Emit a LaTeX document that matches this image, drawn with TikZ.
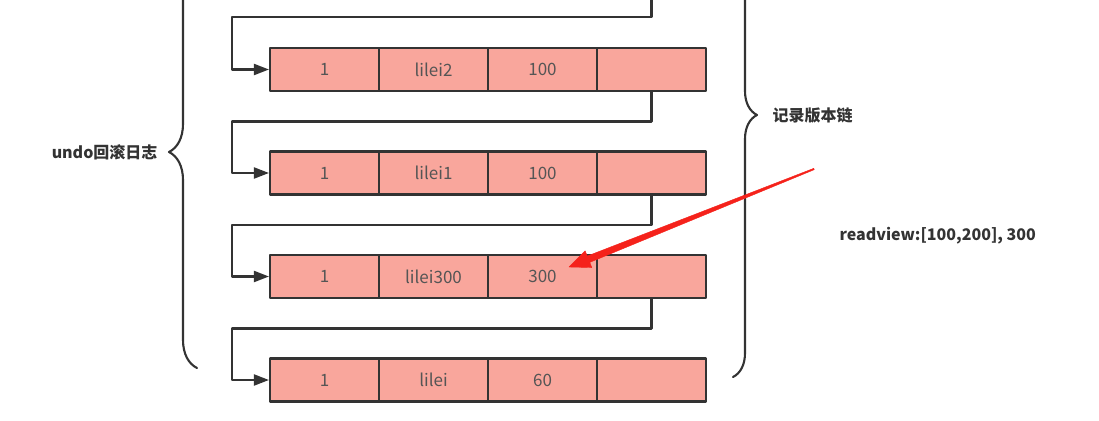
\documentclass[tikz,border=0pt]{standalone}
\usepackage{fontspec}
\setmainfont{Noto Sans CJK SC}
\usetikzlibrary{arrows.meta,calc,positioning,decorations.pathreplacing}
\definecolor{ulInk}{HTML}{333333}
\definecolor{ulText}{HTML}{555555}
\definecolor{ulFill}{HTML}{F9A69C}
\definecolor{ulRed}{HTML}{F5221B}
\tikzset{
 undo/.style={line cap=round,line join=round,text=ulInk},
 cell/.style={rectangle,draw=ulInk,fill=ulFill,line width=2.1pt,inner sep=0pt,
   minimum width=109pt,minimum height=43pt,font=\fontsize{17}{20}\selectfont,text=ulText},
 link/.style={draw=ulInk,line width=2.1pt,-{Triangle[length=15pt,width=11pt]}},
 bracket/.style={draw=ulInk,line width=2.1pt,decorate,
   decoration={brace,amplitude=#1}},
 caption/.style={font=\fontsize{16}{19}\selectfont\bfseries,text=ulInk},
 pointer/.style={fill=ulRed,draw=ulRed,line width=.4pt}
}
\begin{document}
\begin{tikzpicture}[undo,x=1pt,y=-1pt]
 \useasboundingbox (0,0) rectangle (1099,420);
 \clip (0,0) rectangle (1099,420);
 % version records, newest on top
 \foreach \r/\y/\name/\trx in {1/69.5/lilei2/100,2/173/lilei1/100,3/276.5/lilei300/300,4/380/lilei/60}{
   \node[cell] (r\r c1) at (324.5,\y) {1};
   \node[cell] (r\r c2) at (433.5,\y) {\name};
   \node[cell] (r\r c3) at (542.5,\y) {\trx};
   \node[cell] (r\r c4) at (651.5,\y) {};
 }
 % roll pointers
 \coordinate (top) at (651.5,-5);
 \coordinate (bend0) at (232,17);
 \coordinate (bend1) at (232,121.5);
 \coordinate (bend2) at (232,225);
 \coordinate (bend3) at (232,328.5);
 \draw[link] (top) |- (bend0) |- (r1c1.west);
 \draw[link] (r1c4.south) |- (bend1) |- (r2c1.west);
 \draw[link] (r2c4.south) |- (bend2) |- (r3c1.west);
 \draw[link] (r3c4.south) |- (bend3) |- (r4c1.west);
 % braces
 \draw[bracket=28pt] (197,368) -- (197,-64);
 \draw[bracket=24pt] (733,-147) -- (733,377);
 \node[caption,anchor=east] (undolog) at (161,152) {undo回滚日志};
 \node[caption,anchor=west] (chain) at (769,115) {记录版本链};
 \node[caption,anchor=west] (view) at (836,236) {readview:[100,200], 300};
 % red pointer, tapered
 \coordinate (pstart) at (814,169);
 \coordinate (ptip) at (569,267);
 \coordinate (hbase) at ($(ptip)!21pt!(pstart)$);
 \filldraw[pointer] ($(pstart)!0.7pt!90:(ptip)$) -- ($(hbase)!3.4pt!-90:(pstart)$)
   -- ($(hbase)!9pt!-90:(pstart)$) -- (ptip) -- ($(hbase)!9pt!90:(pstart)$)
   -- ($(hbase)!3.4pt!90:(pstart)$) -- ($(pstart)!0.7pt!-90:(ptip)$) -- cycle;
\end{tikzpicture}
\end{document}
